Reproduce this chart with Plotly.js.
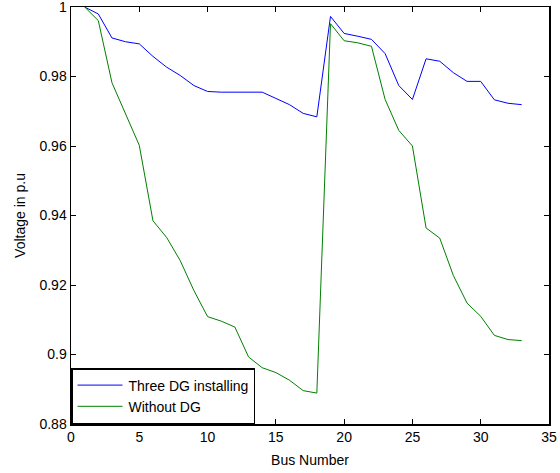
<!DOCTYPE html>
<html>
<head>
<meta charset="utf-8">
<script src="https://cdn.plot.ly/plotly-3.0.1.min.js"></script>
<style>html,body{margin:0;padding:0;background:#fff;}#chart{width:560px;height:473px;}</style>
</head>
<body>
<div id="chart"></div>
<script>
const busNumbers = [1,2,3,4,5,6,7,8,9,10,11,12,13,14,15,16,17,18,19,20,21,22,23,24,25,26,27,28,29,30,31,32,33];
const threeDG = [1.0,0.998,0.9911,0.990,0.9894,0.9858,0.9827,0.9803,0.9774,0.9757,0.9755,0.9755,0.9755,0.9755,0.9737,0.9719,0.9694,0.9684,0.9973,0.9924,0.9916,0.9907,0.9866,0.9774,0.9734,0.9851,0.9844,0.9811,0.9786,0.9786,0.9733,0.9723,0.9719];
const withoutDG = [1.0,0.9961,0.9782,0.9691,0.9602,0.9385,0.9337,0.9270,0.9184,0.9109,0.9096,0.9079,0.8993,0.8962,0.8948,0.8926,0.8896,0.8889,0.9952,0.9903,0.9897,0.9887,0.9734,0.9645,0.9600,0.9364,0.9335,0.9227,0.9148,0.9110,0.9055,0.9043,0.9040];
const xTicks = [0,5,10,15,20,25,30,35];
const yTicks = [0.88,0.90,0.92,0.94,0.96,0.98,1.0];
const yTickLabels = ['0.88','0.9','0.92','0.94','0.96','0.98','1'];

const font = {family: 'Liberation Sans, Arial, sans-serif', size: 14, color: '#000'};
const traces = [
  {x: busNumbers, y: threeDG, name: 'Three DG installing', mode: 'lines', line: {color: '#0000ff', width: 1}},
  {x: busNumbers, y: withoutDG, name: 'Without DG', mode: 'lines', line: {color: '#008000', width: 1}}
];
const axisCommon = {showline: true, linecolor: '#000', linewidth: 1.5, mirror: 'ticks', ticks: 'inside', ticklen: 5, tickcolor: '#000', showgrid: false, zeroline: false, tickfont: font, ticklabeloverflow: 'allow'};
const layout = {
  width: 560, height: 473,
  margin: {l: 71, r: 11, t: 7, b: 49},
  paper_bgcolor: '#fff', plot_bgcolor: '#fff',
  font: font,
  showlegend: true,
  legend: {x: 0, y: 0, xanchor: 'left', yanchor: 'bottom', bgcolor: '#fff', bordercolor: '#000', borderwidth: 1.5, font: font, tracegroupgap: 0, itemwidth: 46},
  xaxis: Object.assign({}, axisCommon, {range: [0, 35.00001], tickvals: xTicks, title: {text: 'Bus Number', font: font, standoff: 11}}),
  yaxis: Object.assign({}, axisCommon, {range: [0.88, 1.00001], tickvals: yTicks, ticktext: yTickLabels, title: {text: 'Voltage in p.u', font: font, standoff: 10}})
};
Plotly.newPlot('chart', traces, layout, {displayModeBar: false, staticPlot: true}).then(function (gd) {
  gd.querySelectorAll('.legendlines path').forEach(function (p) { p.setAttribute('d', 'M5,0h45'); });
});
</script>
</body>
</html>
